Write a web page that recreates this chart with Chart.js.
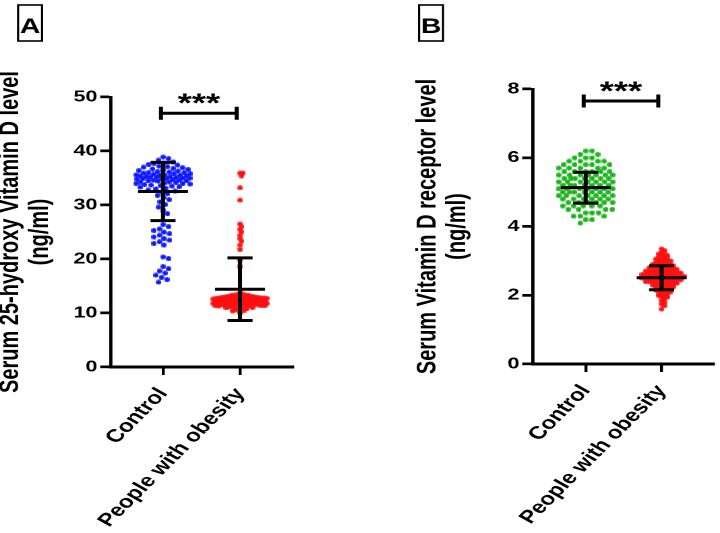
<!DOCTYPE html>
<html>
<head>
<meta charset="utf-8">
<script src="https://cdn.jsdelivr.net/npm/chart.js@4.4.1/dist/chart.umd.min.js"></script>
<style>
  html, body { margin: 0; padding: 0; background: #fff; }
  body { width: 720px; height: 533px; position: relative; overflow: hidden; }
  canvas { position: absolute; top: 0; transform-origin: 0 0; }
</style>
</head>
<body>
<canvas id="chartA" width="267" height="533" style="left:0"></canvas>
<canvas id="chartB" width="267" height="533" style="left:360px"></canvas>
<script>
// groups on the x axis
const groups = ['Control', 'People with obesity'];

// panel A: serum 25-hydroxy vitamin D (ng/ml)
const vitDControl = [
  38.9, 38.6, 38.3, 38.0, 37.8, 37.7, 37.5, 37.4, 37.2, 37.1, 37.0, 36.9, 36.8, 36.7, 36.6, 36.5,
  36.4, 36.3, 36.2, 36.1, 36.0, 36.0, 35.9, 35.8, 35.8, 35.7, 35.6, 35.6, 35.5, 35.5, 35.4, 35.4,
  35.3, 35.3, 35.2, 35.2, 35.1, 35.0, 35.0, 34.9, 34.9, 34.8, 34.8, 34.7, 34.6, 34.6, 34.5, 34.5,
  34.4, 34.3, 34.3, 34.2, 34.1, 34.0, 34.0, 33.9, 33.8, 33.7, 33.6, 33.5, 33.4, 33.3, 33.1, 33.0,
  32.8, 32.6, 32.4, 32.1, 31.8, 31.4, 31.0, 30.6, 30.1, 29.6, 29.0, 28.4,
  26.4, 26.0, 25.6, 25.3, 25.0, 24.7, 24.4, 24.1, 23.8, 23.5, 23.2, 22.9, 22.6,
  20.4, 20.1, 18.6, 18.2, 17.8, 17.4, 17.0, 16.6, 16.2, 15.7
];
const vitDObese = [
  35.9, 35.9, 35.4, 33.2, 30.9, 26.5, 26.0, 25.5, 25.0, 24.4, 23.8, 23.3, 22.6, 21.8, 19.8, 18.6,
  13.6, 13.5, 13.4, 13.3, 13.3, 13.2, 13.2, 13.1, 13.1, 13.0, 13.0, 13.0, 12.9, 12.9, 12.9,
  12.8, 12.8, 12.8, 12.8, 12.7, 12.7, 12.7, 12.7, 12.6, 12.6, 12.6, 12.6, 12.5, 12.5, 12.5, 12.5,
  12.4, 12.4, 12.4, 12.4, 12.3, 12.3, 12.3, 12.3, 12.2, 12.2, 12.2, 12.2, 12.1, 12.1, 12.1, 12.1,
  12.0, 12.0, 12.0, 12.0, 11.9, 11.9, 11.9, 11.9, 11.8, 11.8, 11.8, 11.8, 11.7, 11.7, 11.7, 11.7,
  11.6, 11.6, 11.6, 11.5, 11.5, 11.5, 11.4, 11.4, 11.4, 11.3, 11.3, 11.3, 11.2, 11.2, 11.1, 11.1,
  11.0, 11.0, 10.9, 10.8, 10.7, 10.6, 10.5, 10.4, 10.0
];
const vitDMean = [32.5, 14.4];
const vitDSd = [5.4, 5.8];
const vitDTicks = [0, 10, 20, 30, 40, 50];

// panel B: serum vitamin D receptor (ng/ml)
const vdrControl = [
  6.2, 6.2, 6.1, 6.1, 6.0, 6.0, 6.0, 5.9, 5.9, 5.9, 5.9, 5.8, 5.8, 5.8, 5.8, 5.8,
  5.7, 5.7, 5.7, 5.7, 5.7, 5.6, 5.6, 5.6, 5.6, 5.6, 5.6,
  5.5, 5.5, 5.5, 5.5, 5.5, 5.5, 5.5, 5.4, 5.4, 5.4, 5.4, 5.4, 5.4, 5.4,
  5.3, 5.3, 5.3, 5.3, 5.3, 5.3, 5.3, 5.2, 5.2, 5.2, 5.2, 5.2, 5.2, 5.2,
  5.1, 5.1, 5.1, 5.1, 5.1, 5.1, 5.1, 5.0, 5.0, 5.0, 5.0, 5.0, 5.0, 5.0,
  4.9, 4.9, 4.9, 4.9, 4.9, 4.9, 4.9, 4.8, 4.8, 4.8, 4.8, 4.8, 4.8,
  4.7, 4.7, 4.7, 4.7, 4.7, 4.7, 4.6, 4.6, 4.6, 4.6, 4.6, 4.5, 4.5, 4.5, 4.5,
  4.4, 4.4, 4.4, 4.3, 4.3, 4.3, 4.2, 4.2, 4.1
];
const vdrObese = [
  3.35, 3.30, 3.25, 3.20, 3.20, 3.15, 3.15, 3.10, 3.10, 3.05, 3.05, 3.05, 3.00, 3.00, 3.00,
  2.95, 2.95, 2.95, 2.90, 2.90, 2.90, 2.90, 2.85, 2.85, 2.85, 2.85,
  2.80, 2.80, 2.80, 2.80, 2.80, 2.75, 2.75, 2.75, 2.75, 2.75,
  2.70, 2.70, 2.70, 2.70, 2.70, 2.70, 2.65, 2.65, 2.65, 2.65, 2.65, 2.65,
  2.60, 2.60, 2.60, 2.60, 2.60, 2.60, 2.60, 2.55, 2.55, 2.55, 2.55, 2.55, 2.55, 2.55,
  2.50, 2.50, 2.50, 2.50, 2.50, 2.50, 2.50, 2.45, 2.45, 2.45, 2.45, 2.45, 2.45,
  2.40, 2.40, 2.40, 2.40, 2.40, 2.40, 2.35, 2.35, 2.35, 2.35, 2.35,
  2.30, 2.30, 2.30, 2.30, 2.25, 2.25, 2.25, 2.25, 2.20, 2.20, 2.20, 2.15, 2.15, 2.15,
  2.10, 2.10, 2.10, 2.05, 2.05, 2.00, 2.00, 1.95, 1.95, 1.90, 1.85, 1.80, 1.75, 1.70, 1.60
];
const vdrMean = [5.13, 2.51];
const vdrSd = [0.45, 0.35];
const vdrTicks = [0, 2, 4, 6, 8];

const sigText = '***';

// the reference figure is stretched sideways; draw narrow and widen with CSS
const PANEL_W = 267;
const STRETCH = 360 / PANEL_W;
const FONT = '"Liberation Sans", Arial, sans-serif';

Chart.defaults.font.family = FONT;
Chart.defaults.color = '#000';

function dot(color, w, h) {
  const c = document.createElement('canvas');
  c.width = w; c.height = h;
  const g = c.getContext('2d');
  g.fillStyle = color;
  g.beginPath();
  g.ellipse(w / 2, h / 2, w / 2, h / 2, 0, 0, Math.PI * 2);
  g.fill();
  return c;
}

// simple greedy beeswarm in screen pixels
function swarm(pys, gap, maxHalf) {
  const placed = [];
  return pys.map(py => {
    let best = 0, bestD = -1;
    for (let k = 0; k <= maxHalf * 4; k++) {
      const cand = (k % 2 ? 1 : -1) * Math.ceil(k / 2) * 0.5;
      let dmin = Infinity;
      for (const p of placed) {
        const dy = p[1] - py;
        if (Math.abs(dy) >= gap) continue;
        const d = Math.hypot(p[0] - cand, dy);
        if (d < dmin) dmin = d;
      }
      if (dmin >= gap) { best = cand; break; }
      if (dmin > bestD) { bestD = dmin; best = cand; }
    }
    placed.push([best, py]);
    return best;
  });
}

const marks = {
  id: 'marks',
  afterDatasetsDraw(chart, args, o) {
    const { ctx, scales: { x, y } } = chart;
    ctx.save();
    ctx.strokeStyle = '#000';
    ctx.fillStyle = '#000';
    ctx.lineWidth = 3;
    // mean +/- SD
    o.means.forEach((m, i) => {
      const cx = x.getPixelForValue(i);
      const top = y.getPixelForValue(m + o.sds[i]);
      const bot = y.getPixelForValue(m - o.sds[i]);
      const mid = y.getPixelForValue(m);
      ctx.beginPath();
      ctx.moveTo(cx, top); ctx.lineTo(cx, bot);
      ctx.moveTo(cx - 9.3, top); ctx.lineTo(cx + 9.3, top);
      ctx.moveTo(cx - 9.3, bot); ctx.lineTo(cx + 9.3, bot);
      ctx.moveTo(cx - 18.5, mid); ctx.lineTo(cx + 18.5, mid);
      ctx.stroke();
    });
    // significance bracket
    const sy = y.getPixelForValue(o.sigY);
    const x0 = x.getPixelForValue(0) - 1.5;
    const x1 = x.getPixelForValue(1) - 2.5;
    ctx.beginPath();
    ctx.moveTo(x0, sy); ctx.lineTo(x1, sy);
    ctx.moveTo(x0, sy - 6.5); ctx.lineTo(x0, sy + 6.5);
    ctx.moveTo(x1, sy - 6.5); ctx.lineTo(x1, sy + 6.5);
    ctx.stroke();
    ctx.font = 'bold 27px ' + FONT;
    ctx.textAlign = 'center';
    ctx.textBaseline = 'alphabetic';
    ctx.fillText(sigText, (x0 + x1) / 2, sy - 1);
    // panel letter
    const [bx, by, bw, bh] = o.box;
    ctx.lineWidth = 1.6;
    ctx.strokeRect(bx, by, bw, bh);
    ctx.font = 'bold 21px ' + FONT;
    ctx.fillText(o.letter, bx + bw / 2, by + 28);
    ctx.restore();
  }
};

function makePanel(id, cfg) {
  const canvas = document.getElementById(id);
  const chart = new Chart(canvas, {
    type: 'scatter',
    data: {
      datasets: cfg.series.map((vals, i) => ({
        data: vals.map(v => ({ x: i, y: v })),
        pointStyle: dot(cfg.colors[i], 4, 5),
        pointRadius: 3
      }))
    },
    options: {
      responsive: false,
      animation: false,
      devicePixelRatio: 2,
      events: [],
      layout: { padding: cfg.padding },
      plugins: {
        legend: { display: false },
        tooltip: { enabled: false },
        marks: { means: cfg.means, sds: cfg.sds, sigY: cfg.sigY, letter: cfg.letter, box: cfg.box }
      },
      scales: {
        x: {
          type: 'linear', min: cfg.xMin, max: cfg.xMax,
          afterBuildTicks: s => { s.ticks = groups.map((g, i) => ({ value: i })); },
          afterFit: s => { s.height = cfg.xHeight; },
          ticks: {
            callback: v => groups[v], autoSkip: false, minRotation: 53, maxRotation: 53,
            padding: 9, font: { size: 18, weight: 'bold' }
          },
          grid: { drawOnChartArea: false, color: '#000', lineWidth: 2.2, tickLength: 8 },
          border: { color: '#000', width: 3 }
        },
        y: {
          min: 0, max: cfg.yTicks[cfg.yTicks.length - 1],
          afterBuildTicks: s => { s.ticks = cfg.yTicks.map(v => ({ value: v })); },
          afterFit: s => { s.width = cfg.yWidth; },
          ticks: { padding: 2, font: { size: 16, weight: 'bold' } },
          grid: { drawOnChartArea: false, color: '#000', lineWidth: 2.7, tickLength: 8 },
          border: { color: '#000', width: 2.4 },
          title: {
            display: true, text: cfg.title, color: '#000',
            font: { size: 20, weight: 'bold', lineHeight: 1.1 },
            padding: { top: -3, bottom: 0 }
          }
        }
      }
    },
    plugins: [marks]
  });
  canvas.style.transform = 'scaleX(' + STRETCH + ')';

  // spread each column as a beeswarm
  const xs = chart.scales.x, ys = chart.scales.y;
  const unit = (xs.getPixelForValue(1) - xs.getPixelForValue(0)) * STRETCH;
  chart.data.datasets.forEach((ds, i) => {
    const vals = cfg.series[i];
    const offs = swarm(vals.map(v => ys.getPixelForValue(v)), cfg.gap[i], 27);
    ds.data = vals.map((v, k) => ({ x: i + offs[k] / unit, y: v }));
  });
  chart.update('none');
  return chart;
}

makePanel('chartA', {
  series: [vitDControl, vitDObese],
  colors: ['#0a14ff', '#ff1010'],
  gap: [5.5, 3],
  means: vitDMean, sds: vitDSd,
  yTicks: vitDTicks,
  title: ['Serum 25-hydroxy Vitamin D level', '(ng/ml)'],
  sigY: 47.0,
  letter: 'A', box: [13.4, 5, 17.8, 36],
  padding: { left: 0, top: 97, right: 49.7, bottom: 0 },
  yWidth: 82.3, xHeight: 166,
  xMin: -0.676, xMax: 1.688
});

makePanel('chartB', {
  series: [vdrControl, vdrObese],
  colors: ['#14b414', '#ff1010'],
  gap: [6.3, 3.3],
  means: vdrMean, sds: vdrSd,
  yTicks: vdrTicks,
  title: ['Serum Vitamin D receptor level', '(ng/ml)'],
  sigY: 7.65,
  letter: 'B', box: [43.8, 5, 17.8, 36],
  padding: { left: 42.4, top: 89, right: 1.5, bottom: 0 },
  yWidth: 85.9, xHeight: 169,
  xMin: -0.694, xMax: 1.68
});
</script>
</body>
</html>
